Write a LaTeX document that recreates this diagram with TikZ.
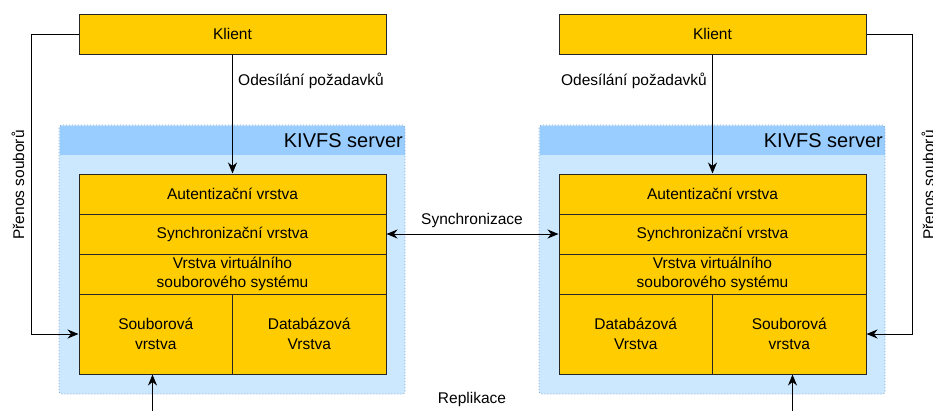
\documentclass[tikz,border=0pt]{standalone}
\usepackage{fontspec}
\setmainfont{Liberation Sans}
\usetikzlibrary{arrows.meta}
\definecolor{layeryellow}{HTML}{FFCC00}
\definecolor{serverbody}{HTML}{CCE8FF}
\definecolor{serverhead}{HTML}{99CCFF}
\definecolor{serverline}{HTML}{8FA8C8}
\tikzset{
  layer/.style={draw=black!85, fill=layeryellow, line width=1pt, inner sep=0pt,
    align=center, font=\fontsize{15.5}{19.5}\selectfont},
  lbl/.style={inner sep=0pt, font=\fontsize{15.5}{19.5}\selectfont},
  conn/.style={draw=black, line width=1pt,
    -{Stealth[length=11pt,width=9pt,inset=3.5pt]}},
  conn2/.style={draw=black, line width=1pt,
    {Stealth[length=11pt,width=9pt,inset=3.5pt]}-{Stealth[length=11pt,width=9pt,inset=3.5pt]}},
  serverframe/.style={draw=serverline, line width=0.8pt, dash pattern=on 1pt off 2pt, rounded corners=3pt},
}
\begin{document}
\begin{tikzpicture}[x=1pt, y=-1pt]
\useasboundingbox (0,0) rectangle (933,410);
\clip (0,0) rectangle (933,410);

% server containers (body, header band, dotted outline)
\foreach \dx in {0,480} {
  \fill[serverbody, rounded corners=3pt] (59+\dx,125) rectangle (405+\dx,394);
  \fill[serverhead] (59.5+\dx,125.5) rectangle (404.5+\dx,155);
  \draw[serverframe] (59+\dx,125) rectangle (405+\dx,394);
}
\node[anchor=east, inner sep=0pt, font=\fontsize{20}{24}\selectfont] (headL) at (403,141) {KIVFS server};
\node[anchor=east, inner sep=0pt, font=\fontsize{20}{24}\selectfont] (headR) at (883,141) {KIVFS server};

% left side
\node[layer, minimum width=307pt, minimum height=40pt] (klientL) at (232.5,34) {Klient};
\node[layer, minimum width=307pt, minimum height=40pt] (autL) at (232.5,194) {Autentizační vrstva};
\node[layer, minimum width=307pt, minimum height=40pt] (syncL) at (232.5,234) {Synchronizační vrstva};
\node[layer, minimum width=307pt, minimum height=40pt] (vfsL) at (232.5,274) {Vrstva virtuálního\\souborového systému};
\node[layer, minimum width=153.5pt, minimum height=80pt] (soubL) at (155.75,334) {Souborová\\vrstva};
\node[layer, minimum width=153.5pt, minimum height=80pt] (dbL) at (309.25,334) {Databázová\\Vrstva};

% right side
\node[layer, minimum width=307pt, minimum height=40pt] (klientR) at (712.5,34) {Klient};
\node[layer, minimum width=307pt, minimum height=40pt] (autR) at (712.5,194) {Autentizační vrstva};
\node[layer, minimum width=307pt, minimum height=40pt] (syncR) at (712.5,234) {Synchronizační vrstva};
\node[layer, minimum width=307pt, minimum height=40pt] (vfsR) at (712.5,274) {Vrstva virtuálního\\souborového systému};
\node[layer, minimum width=153.5pt, minimum height=80pt] (dbR) at (635.75,334) {Databázová\\Vrstva};
\node[layer, minimum width=153.5pt, minimum height=80pt] (soubR) at (789.25,334) {Souborová\\vrstva};

% requests from the clients
\draw[conn] (klientL.south) -- (autL.north);
\draw[conn] (klientR.south) -- (autR.north);
\node[lbl, anchor=west] (reqL) at (238,81) {Odesílání požadavků};
\node[lbl, anchor=east] (reqR) at (707,81) {Odesílání požadavků};

% file transfer
\draw[conn] (klientL.west) -- ++(-47,0) |- (soubL.west);
\draw[conn] (klientR.east) -- ++(46,0) |- (soubR.east);
\node[lbl, rotate=90] (fileL) at (18,185) {Přenos souborů};
\node[lbl, rotate=90] (fileR) at (928,185) {Přenos souborů};

% synchronisation between servers
\draw[conn2] (syncL.east) -- (syncR.west);
\node[lbl] (syncLbl) at (472,220) {Synchronizace};

% replication
\coordinate (repL) at (152.5,415);
\coordinate (repR) at (792.5,415);
\draw[conn] (repL) -- (repL |- soubL.south);
\draw[conn] (repR) -- (repR |- soubR.south);
\node[lbl] (repLbl) at (472,399) {Replikace};
\end{tikzpicture}
\end{document}
